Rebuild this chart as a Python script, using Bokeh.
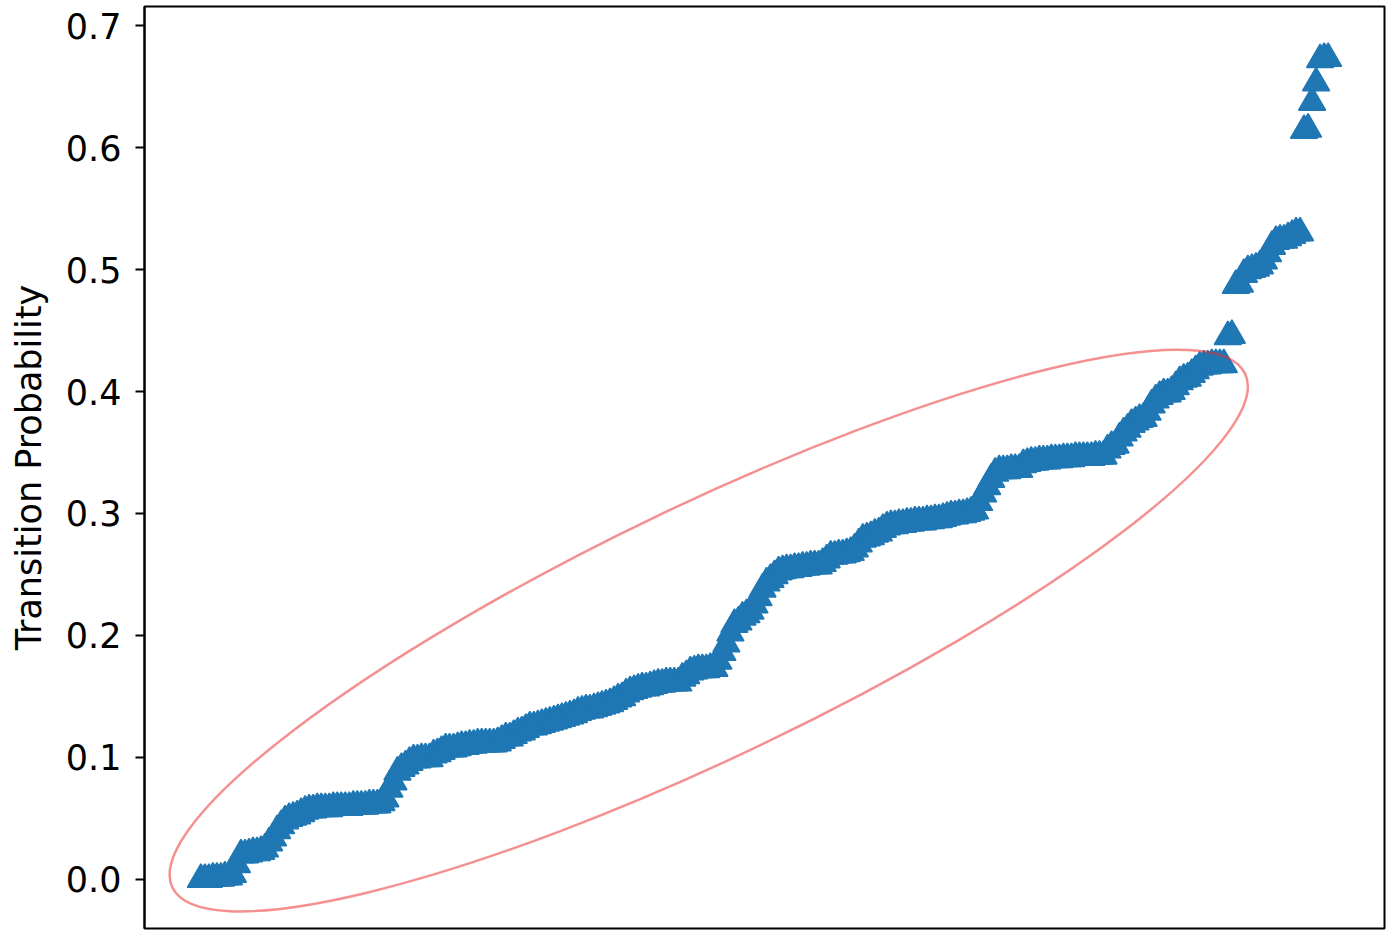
import numpy as np
from bokeh.plotting import figure
from bokeh.models import Range1d, FixedTicker, NumeralTickFormatter, ColumnDataSource
from bokeh.embed import file_html
from bokeh.resources import INLINE

# Sorted transition probabilities
values = [
    0.000, 0.000, 0.000, 0.001, 0.001, 0.001, 0.002, 0.002, 0.004, 0.012,
    0.020, 0.020, 0.021, 0.022, 0.022, 0.023, 0.025, 0.030, 0.034, 0.040,
    0.044, 0.048, 0.050, 0.051, 0.052, 0.054, 0.056, 0.057, 0.057, 0.058,
    0.058, 0.058, 0.058, 0.059, 0.059, 0.059, 0.059, 0.059, 0.060, 0.060,
    0.060, 0.060, 0.061, 0.061, 0.061, 0.063, 0.066, 0.074, 0.080, 0.088,
    0.091, 0.093, 0.096, 0.098, 0.098, 0.099, 0.099, 0.099, 0.102, 0.103,
    0.105, 0.107, 0.107, 0.107, 0.108, 0.109, 0.109, 0.110, 0.110, 0.111,
    0.111, 0.111, 0.111, 0.111, 0.112, 0.114, 0.116, 0.116, 0.118, 0.120,
    0.121, 0.123, 0.125, 0.125, 0.126, 0.127, 0.128, 0.129, 0.130, 0.131,
    0.132, 0.133, 0.134, 0.135, 0.137, 0.138, 0.139, 0.139, 0.140, 0.141,
    0.142, 0.143, 0.144, 0.146, 0.148, 0.149, 0.152, 0.154, 0.155, 0.156,
    0.157, 0.157, 0.158, 0.159, 0.160, 0.160, 0.161, 0.161, 0.161, 0.161,
    0.165, 0.167, 0.170, 0.171, 0.172, 0.172, 0.172, 0.173, 0.173, 0.179,
    0.186, 0.193, 0.202, 0.209, 0.211, 0.215, 0.217, 0.220, 0.225, 0.231,
    0.238, 0.243, 0.246, 0.249, 0.252, 0.253, 0.254, 0.254, 0.255, 0.255,
    0.256, 0.256, 0.257, 0.257, 0.257, 0.259, 0.262, 0.265, 0.265, 0.266,
    0.266, 0.267, 0.268, 0.271, 0.275, 0.279, 0.280, 0.281, 0.283, 0.284,
    0.287, 0.289, 0.290, 0.290, 0.291, 0.291, 0.292, 0.292, 0.293, 0.293,
    0.293, 0.294, 0.294, 0.295, 0.295, 0.296, 0.297, 0.298, 0.298, 0.299,
    0.299, 0.300, 0.301, 0.302, 0.309, 0.316, 0.322, 0.328, 0.333, 0.335,
    0.335, 0.335, 0.336, 0.336, 0.336, 0.340, 0.341, 0.342, 0.342, 0.343,
    0.343, 0.343, 0.344, 0.344, 0.344, 0.345, 0.345, 0.345, 0.346, 0.346,
    0.346, 0.346, 0.346, 0.347, 0.347, 0.347, 0.352, 0.355, 0.356, 0.362,
    0.366, 0.369, 0.373, 0.375, 0.377, 0.378, 0.383, 0.389, 0.393, 0.396,
    0.398, 0.398, 0.400, 0.404, 0.408, 0.410, 0.411, 0.414, 0.417, 0.420,
    0.421, 0.421, 0.422, 0.422, 0.422, 0.422, 0.445, 0.446, 0.487, 0.488,
    0.496, 0.499, 0.500, 0.501, 0.503, 0.507, 0.513, 0.519, 0.523, 0.524,
    0.524, 0.526, 0.528, 0.530, 0.530, 0.614, 0.615, 0.637, 0.653, 0.672,
    0.673, 0.673,
]

y_ticks = [0.0, 0.1, 0.2, 0.3, 0.4, 0.5, 0.6, 0.7]
y_label = "Transition Probability"

# Highlight ellipse (data units; angle in degrees)
ellipse_x = 126.6
ellipse_y = 0.204
ellipse_w = 296.5
ellipse_h = 0.206
ellipse_angle_deg = 25.6

n = len(values)
src = ColumnDataSource(dict(x=np.arange(n), y=values))

FONT = "DejaVu Sans"

p = figure(
    width=1391, height=930,
    output_backend="svg", toolbar_location=None, title=None,
    x_range=Range1d(-0.05 * (n - 1), 1.05 * (n - 1)),
    y_range=Range1d(-0.0402, 0.7156),
    min_border_left=144, min_border_right=7,
    min_border_top=6, min_border_bottom=2,
)
p.background_fill_color = "white"
p.border_fill_color = "white"
p.grid.visible = False
p.xaxis.visible = False
p.outline_line_color = "black"
p.outline_line_width = 2
p.outline_line_alpha = 1.0

ya = p.yaxis[0]
ya.ticker = FixedTicker(ticks=y_ticks)
ya.formatter = NumeralTickFormatter(format="0.0")
ya.axis_label = y_label
ya.axis_label_text_font = FONT
ya.axis_label_text_font_style = "normal"
ya.axis_label_text_font_size = "35px"
ya.axis_label_text_color = "black"
ya.axis_label_standoff = 14
ya.major_label_text_font = FONT
ya.major_label_text_font_size = "35px"
ya.major_label_text_color = "black"
ya.major_label_standoff = 14
ya.axis_line_width = 2
ya.axis_line_color = "black"
ya.major_tick_line_width = 2
ya.major_tick_line_color = "black"
ya.major_tick_out = 9
ya.major_tick_in = 0
ya.minor_tick_out = 0
ya.minor_tick_in = 0
ya.minor_tick_line_color = None

p.scatter(x="x", y="y", source=src, marker="triangle", size=27,
          fill_color="#1f77b4", line_color="#1f77b4", line_width=1.5)

p.ellipse(x=[ellipse_x], y=[ellipse_y], width=[ellipse_w], height=[ellipse_h],
          angle=np.radians(ellipse_angle_deg), fill_color=None,
          line_color="#ea2a2a", line_alpha=0.52, line_width=2.5)

open("out.html", "w").write(file_html(p, INLINE))
